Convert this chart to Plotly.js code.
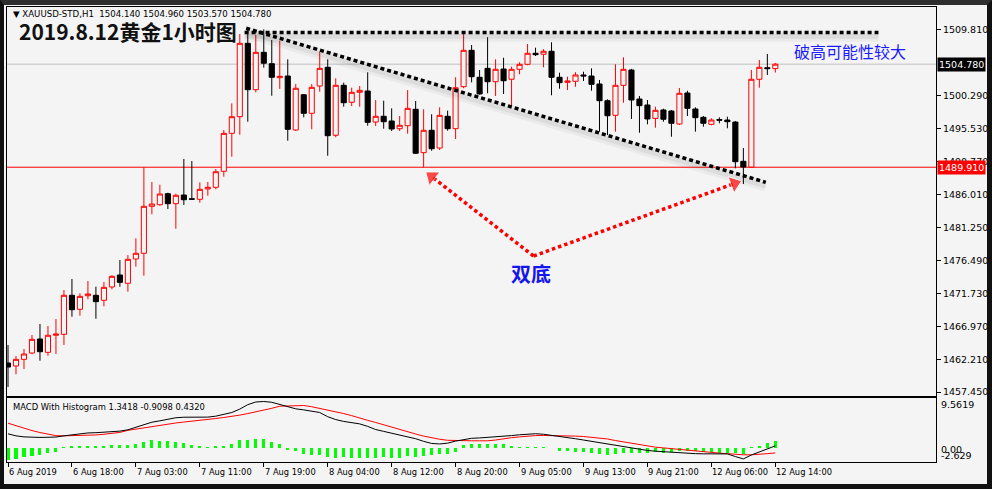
<!DOCTYPE html>
<html>
<head>
<meta charset="utf-8">
<script src="https://cdn.plot.ly/plotly-3.0.1.min.js"></script>
<style>
  html, body { margin:0; padding:0; background:#f4f4f4; }
  #wrap { position:relative; width:992px; height:489px; }
  #chart { width:992px; height:489px; }
  #frame { position:absolute; left:0; top:0; width:992px; height:489px; box-sizing:border-box;
           border-left:4px solid #111; border-right:5px solid #111; border-bottom:5px solid #111;
           border-top:5px solid #2e2e2e; pointer-events:none; }
</style>
</head>
<body>
<div id="wrap"><div id="chart"></div><div id="frame"></div></div>
<script>
// ---- OHLC (XAUUSD H1, 6 Aug 2019 -> 12 Aug 14:00) ----
const opens = [1461.66,1461.23,1462.19,1463.10,1465.12,1463.20,1465.66,1465.80,1471.43,1469.41,
 1471.37,1471.43,1470.71,1472.63,1474.36,1473.16,1476.67,1477.49,1484.27,1484.50,
 1486.09,1484.65,1485.90,1485.35,1485.28,1486.77,1487.01,1489.32,1494.80,1497.20,
 1507.79,1501.10,1506.49,1504.85,1502.83,1503.07,1495.28,1500.37,1497.69,1501.63,
 1504.33,1494.52,1501.73,1499.28,1500.72,1500.91,1496.43,1497.26,1496.58,1495.47,
 1495.90,1498.27,1492.01,1495.24,1492.68,1497.26,1495.47,1501.53,1506.78,1502.89,
 1504.18,1502.25,1504.08,1502.60,1504.04,1504.76,1506.35,1506.21,1506.64,1502.89,
 1502.16,1502.31,1503.22,1503.07,1501.92,1499.51,1497.40,1501.73,1503.94,1499.75,
 1498.89,1496.96,1498.17,1498.02,1496.15,1500.62,1498.31,1497.11,1496.10,1496.80,
 1496.72,1496.43,1490.76,1489.94,1502.60,1504.27,1504.14];
const highs = [1464.26,1462.67,1463.68,1465.70,1467.29,1467.00,1468.01,1472.19,1473.78,1471.72,
 1473.49,1472.67,1473.35,1474.32,1476.52,1477.24,1479.65,1489.91,1487.78,1487.39,
 1486.23,1486.09,1491.10,1490.81,1487.73,1487.78,1489.65,1495.28,1499.13,1509.13,
 1510.00,1508.99,1509.81,1508.27,1508.17,1505.48,1501.92,1500.48,1501.92,1506.58,
 1505.48,1502.74,1502.11,1501.39,1501.63,1503.61,1499.61,1499.51,1498.41,1497.30,
 1501.05,1499.47,1498.27,1497.55,1498.55,1498.07,1502.89,1509.32,1507.55,1503.94,
 1508.66,1505.48,1505.71,1504.42,1505.05,1507.69,1507.16,1506.93,1507.94,1503.55,
 1502.97,1503.61,1503.69,1504.18,1502.50,1499.71,1504.76,1505.77,1504.10,1500.19,
 1499.61,1498.64,1498.35,1498.17,1501.34,1500.95,1498.55,1497.30,1496.97,1497.11,
 1497.20,1496.58,1492.68,1503.94,1505.38,1506.25,1504.96];
const lows = [1458.20,1460.03,1460.79,1462.91,1461.99,1462.71,1462.96,1464.26,1468.34,1468.48,
 1470.85,1468.05,1469.84,1472.29,1472.67,1471.95,1475.56,1474.26,1483.12,1484.36,
 1483.88,1481.04,1484.46,1485.25,1484.79,1485.80,1486.72,1488.54,1491.43,1494.60,
 1496.48,1500.72,1504.27,1500.23,1501.20,1493.74,1495.14,1497.11,1495.38,1500.81,
 1491.57,1494.23,1498.64,1498.74,1498.64,1495.90,1495.86,1495.47,1495.14,1495.14,
 1494.75,1491.82,1489.91,1492.29,1492.40,1495.18,1493.98,1501.30,1502.16,1500.37,
 1500.58,1500.19,1500.48,1498.85,1503.32,1504.62,1505.96,1504.33,1500.29,1501.24,
 1501.05,1501.53,1502.35,1500.95,1495.04,1494.56,1495.04,1499.22,1496.87,1494.89,
 1496.10,1495.61,1496.48,1494.31,1496.00,1497.30,1495.04,1495.76,1495.96,1496.25,
 1495.53,1489.75,1487.49,1489.91,1501.39,1503.22,1503.57];
const closes = [1461.08,1462.19,1462.96,1465.08,1463.29,1465.66,1465.84,1471.43,1469.35,1471.28,
 1471.62,1470.51,1472.58,1474.17,1473.30,1476.62,1477.49,1484.27,1484.60,1486.05,
 1484.65,1485.86,1485.22,1485.30,1486.72,1487.01,1489.26,1494.80,1497.20,1507.79,
 1501.10,1506.49,1504.91,1502.89,1503.03,1495.38,1501.30,1497.69,1501.44,1504.18,
 1494.46,1501.73,1499.22,1500.72,1501.01,1496.39,1497.26,1496.48,1495.43,1495.96,
 1498.41,1491.92,1495.24,1492.58,1497.40,1495.47,1501.38,1506.78,1502.97,1500.48,
 1502.25,1504.04,1502.39,1504.04,1504.76,1506.35,1506.15,1506.64,1502.89,1502.11,
 1502.35,1503.22,1503.08,1501.87,1499.51,1497.34,1501.73,1504.04,1499.61,1498.79,
 1496.87,1498.12,1496.83,1496.25,1500.58,1498.41,1497.06,1496.25,1496.72,1496.70,
 1496.48,1490.71,1489.94,1502.60,1504.33,1504.14,1504.78];

// ---- MACD sub-window ----
const macdMain = [2.73,2.35,2.15,2.05,2.05,2.08,2.12,2.35,2.55,2.75,
 2.90,2.95,3.05,3.15,3.25,3.50,3.95,4.55,4.95,5.21,
 5.55,5.80,5.90,5.90,5.90,5.92,6.10,6.40,6.80,7.45,
 8.30,8.80,8.90,8.75,8.30,7.90,7.50,7.30,7.10,6.80,
 6.00,5.45,5.10,4.85,4.63,4.15,3.55,3.20,2.85,2.54,
 2.20,1.80,1.30,0.90,0.80,0.95,1.35,1.65,1.88,1.95,
 2.05,2.10,2.25,2.40,2.55,2.70,2.75,2.65,2.45,2.30,
 2.05,1.80,1.55,1.30,1.05,0.75,0.45,0.25,0.05,-0.20,
 -0.44,-0.58,-0.70,-0.82,-0.90,-0.98,-1.05,-1.08,-1.08,-1.08,
 -1.10,-1.60,-2.05,-1.30,-0.70,-0.10,0.432];
const macdSignal = [4.76,4.25,3.75,3.35,2.98,2.65,2.38,2.35,2.38,2.40,
 2.45,2.52,2.65,2.80,3.00,3.40,3.65,3.90,4.15,4.40,
 4.60,4.80,4.98,5.12,5.27,5.45,5.65,5.85,6.05,6.30,
 6.60,6.90,7.17,7.60,8.00,8.08,8.13,8.13,7.90,7.60,
 7.30,7.00,6.60,6.20,5.70,5.30,4.90,4.45,3.95,3.49,
 3.10,2.70,2.30,1.95,1.70,1.50,1.42,1.40,1.40,1.40,
 1.40,1.55,1.80,2.00,2.15,2.30,2.40,2.42,2.42,2.42,
 2.38,2.30,2.22,2.10,1.95,1.75,1.45,1.20,0.85,0.62,
 0.40,0.19,0.05,-0.10,-0.30,-0.44,-0.60,-0.75,-0.85,-0.95,
 -1.05,-1.20,-1.27,-1.27,-1.20,-1.05,-0.9098];
const macdHist = [-2.2,-2.0,-1.6,-1.4,-1.25,-0.85,-0.65,0.15,0.45,0.45,
 0.5,0.5,0.45,0.55,0.6,0.6,0.75,1.15,1.6,1.45,
 1.35,1.15,0.9,0.65,0.4,0.2,0.45,0.35,0.7,1.5,
 1.6,1.75,1.7,1.1,0.75,-0.3,-0.6,-1.1,-1.3,-1.3,
 -1.7,-1.8,-1.7,-1.8,-1.8,-1.8,-1.8,-1.7,-1.8,-1.8,
 -1.5,-1.7,-1.5,-1.35,-1.2,-1.1,-0.65,0.6,0.7,0.7,
 0.7,0.75,0.75,0.45,0.3,0.3,0.3,0.3,0.1,-0.5,
 -0.6,-0.7,-0.8,-0.95,-1.15,-1.3,-1.15,-0.85,-0.85,-0.85,
 -0.95,-0.7,-0.85,-0.7,-0.5,-0.5,-0.6,-0.7,-0.8,-0.85,
 -0.85,-0.85,-1.15,0.15,0.45,1.05,1.3418];

// ---- axis labels ----
const timeLabelIdx = [0,8,16,24,32,40,48,56,64,72,80,88,96];
const timeLabels = ['6 Aug 2019','6 Aug 18:00','7 Aug 03:00','7 Aug 11:00','7 Aug 19:00','8 Aug 04:00',
 '8 Aug 12:00','8 Aug 20:00','9 Aug 05:00','9 Aug 13:00','9 Aug 21:00','12 Aug 06:00','12 Aug 14:00'];
const priceTicks = [1509.810,1500.290,1495.530,1490.770,1486.010,1481.250,1476.490,1471.730,1466.970,1462.210,1457.450];
const macdLabels = ['9.5619','0.00','-2.629'];
const macdLabelVals = [9.5619,0,-2.629];
const supportLevel = 1489.91;
const headerText = '▼ XAUUSD-STD,H1  1504.140 1504.960 1503.570 1504.780';
const macdTitle = 'MACD With Histogram 1.3418 -0.9098 0.4320';

// ---- hand drawn objects (bar index, price) ----
const resLineX = [29.6, 108.9], resLineY = [1509.35, 1509.35];
const trendX = [29.8, 94.8], trendY = [1509.96, 1487.73];
const arrowLX = [65.75, 53.0], arrowLY = [1477.10, 1488.57];
const arrowRX = [65.75, 90.9], arrowRY = [1477.10, 1487.56];

const idx = opens.map((_, i) => i);
const lastPrice = closes[closes.length - 1];
const shadowOff = 0.55;

const traces = [
  {type:'candlestick', x:idx, open:opens, high:highs, low:lows, close:closes, xaxis:'x', yaxis:'y',
   increasing:{line:{color:'#ff0000', width:1}, fillcolor:'#f4f4f4'},
   decreasing:{line:{color:'#000000', width:1}, fillcolor:'#000000'},
   whiskerwidth:0, hoverinfo:'skip'},
  // soft shadows of black trendlines
  {type:'scatter', mode:'lines', x:resLineX, y:resLineY.map(v=>v-shadowOff), xaxis:'x', yaxis:'y',
   line:{color:'rgba(0,0,0,0.04)', width:11}, hoverinfo:'skip'},
  {type:'scatter', mode:'lines', x:resLineX, y:resLineY.map(v=>v-shadowOff), xaxis:'x', yaxis:'y',
   line:{color:'rgba(0,0,0,0.06)', width:5}, hoverinfo:'skip'},
  {type:'scatter', mode:'lines', x:trendX, y:trendY.map(v=>v-shadowOff), xaxis:'x', yaxis:'y',
   line:{color:'rgba(0,0,0,0.04)', width:11}, hoverinfo:'skip'},
  {type:'scatter', mode:'lines', x:trendX, y:trendY.map(v=>v-shadowOff), xaxis:'x', yaxis:'y',
   line:{color:'rgba(0,0,0,0.06)', width:5}, hoverinfo:'skip'},
  {type:'scatter', mode:'lines', x:resLineX, y:resLineY, xaxis:'x', yaxis:'y',
   line:{color:'#000000', width:3.5, dash:'4px,3px'}, hoverinfo:'skip'},
  {type:'scatter', mode:'lines', x:trendX, y:trendY, xaxis:'x', yaxis:'y',
   line:{color:'#000000', width:3.5, dash:'4px,3px'}, hoverinfo:'skip'},
  // red arrows
  {type:'scatter', mode:'lines+markers', x:arrowLX, y:arrowLY, xaxis:'x', yaxis:'y',
   line:{color:'#ff0000', width:3.5, dash:'3.5px,3px'},
   marker:{symbol:'triangle-up', size:[0,15], color:'#ff0000', angleref:'previous'}, hoverinfo:'skip'},
  {type:'scatter', mode:'lines+markers', x:arrowRX, y:arrowRY, xaxis:'x', yaxis:'y',
   line:{color:'#ff0000', width:3.5, dash:'3.5px,3px'},
   marker:{symbol:'triangle-up', size:[0,15], color:'#ff0000', angleref:'previous'}, hoverinfo:'skip'},
  // MACD
  {type:'bar', x:idx, y:macdHist, xaxis:'x2', yaxis:'y2', width:0.38,
   marker:{color:'#00ff00', line:{width:0}}, hoverinfo:'skip'},
  {type:'scatter', mode:'lines', x:idx, y:macdSignal, xaxis:'x2', yaxis:'y2',
   line:{color:'#ff0000', width:1}, hoverinfo:'skip'},
  {type:'scatter', mode:'lines', x:idx, y:macdMain, xaxis:'x2', yaxis:'y2',
   line:{color:'#000000', width:1}, hoverinfo:'skip'}
];

const H = 455, plotTopPx = 7;
const mainBottom = (462 - 395.5) / H;
const macdTop = (462 - 397.5) / H;
const smallFont = {family:'DejaVu Sans', size:9.5, color:'#000'};

const annotations = [];
timeLabelIdx.forEach((b, i) => annotations.push({
  xref:'x2', yref:'paper', x:b, y:0, xanchor:'left', yanchor:'top', yshift:-3, xshift:-1,
  text:timeLabels[i], showarrow:false, font:{family:'DejaVu Sans', size:8.3, color:'#000'}}));
annotations.push({xref:'paper', yref:'paper', x:0, y:1, xanchor:'left', yanchor:'top', xshift:4, yshift:0,
  text:headerText, showarrow:false, font:{family:'DejaVu Sans', size:8.6, color:'#000'}});
annotations.push({xref:'paper', yref:'paper', x:0, y:macdTop, xanchor:'left', yanchor:'top', xshift:4, yshift:-2,
  text:macdTitle, showarrow:false, font:{family:'DejaVu Sans', size:8.4, color:'#000'}});
// price label boxes
annotations.push({xref:'paper', yref:'y', x:1, y:lastPrice, xanchor:'left', xshift:1,
  text:lastPrice.toFixed(3), showarrow:false, bgcolor:'#000', borderpad:1,
  font:{family:'DejaVu Sans', size:9.5, color:'#fff'}});
annotations.push({xref:'paper', yref:'y', x:1, y:supportLevel, xanchor:'left', xshift:1,
  text:supportLevel.toFixed(3), showarrow:false, bgcolor:'#ff0000', borderpad:1,
  font:{family:'DejaVu Sans', size:9.5, color:'#fff'}});
// MACD scale labels
const macdShift = [-6, -1, 6];
macdLabels.forEach((t, i) => annotations.push({xref:'paper', yref:'y2', x:1, y:macdLabelVals[i],
  xanchor:'left', xshift:3, yshift:macdShift[i], text:t, showarrow:false, font:smallFont}));
// texts written on the chart
annotations.push({xref:'paper', yref:'paper', x:(17-7)/929, y:1-(31-plotTopPx)/H, xanchor:'left', yanchor:'middle',
  text:'<b>2019.8.12黄金1小时图</b>', showarrow:false,
  font:{family:'Noto Sans CJK SC', size:21, color:'#111'}});
annotations.push({xref:'paper', yref:'paper', x:(792-7)/929, y:1-(51-plotTopPx)/H, xanchor:'left', yanchor:'middle',
  text:'破高可能性较大', showarrow:false, font:{family:'Noto Sans CJK SC', size:16, color:'#1a1aff'}});
annotations.push({xref:'paper', yref:'paper', x:(531-7)/929, y:1-(273-plotTopPx)/H, xanchor:'center', yanchor:'middle',
  text:'<b>双底</b>', showarrow:false, font:{family:'Noto Sans CJK SC', size:20, color:'#1515ee'}});

const layout = {
  width:992, height:489,
  margin:{l:7, r:56, t:7, b:27, pad:0},
  paper_bgcolor:'#f4f4f4', plot_bgcolor:'#f4f4f4',
  showlegend:false, boxgap:0.2, boxgroupgap:0.2, bargap:0,
  xaxis:{domain:[0,1], anchor:'y', range:[-0.125, 116.1], showline:true, mirror:true, linecolor:'#000', linewidth:1,
    showgrid:false, zeroline:false, showticklabels:false, ticks:'', rangeslider:{visible:false}},
  xaxis2:{domain:[0,1], anchor:'y2', matches:'x', showline:true, mirror:true, linecolor:'#000', linewidth:1,
    showgrid:false, zeroline:false, showticklabels:false, tickmode:'array', tickvals:timeLabelIdx,
    ticks:'outside', ticklen:4, tickcolor:'#000', tickwidth:1},
  yaxis:{domain:[mainBottom,1], anchor:'x', side:'right', range:[1456.97, 1513.03], tickmode:'array',
    tickvals:priceTicks, ticktext:priceTicks.map(v=>v.toFixed(3)), ticks:'outside', ticklen:4, tickcolor:'#000',
    showline:true, mirror:true, linecolor:'#000', linewidth:1, showgrid:false, zeroline:false, tickfont:smallFont},
  yaxis2:{domain:[0,macdTop], anchor:'x2', side:'right', range:[-2.64, 9.66], showline:true, mirror:true,
    linecolor:'#000', linewidth:1, showgrid:false, zeroline:false, showticklabels:false, ticks:''},
  shapes:[
    {type:'line', xref:'x domain', yref:'y', x0:0, x1:1, y0:lastPrice, y1:lastPrice, layer:'below',
     line:{color:'#c0c0c0', width:1}},
    {type:'line', xref:'x domain', yref:'y', x0:0, x1:1, y0:supportLevel, y1:supportLevel, layer:'below',
     line:{color:'#ff0000', width:1}}
  ],
  annotations:annotations
};

Plotly.newPlot('chart', traces, layout, {staticPlot:true, displayModeBar:false});
</script>
</body>
</html>
